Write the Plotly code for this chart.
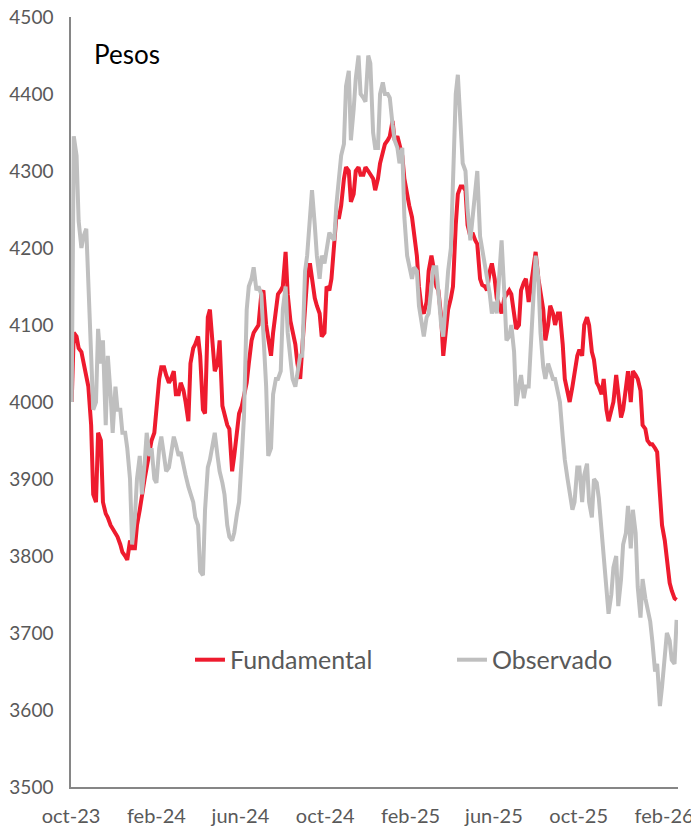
import pandas as pd
import plotly.graph_objects as go

# Twice-weekly readings (Monday, Thursday) from Oct-2023 to Feb-2026
mondays = pd.date_range("2023-10-02", periods=125, freq="7D")
thursdays = mondays + pd.Timedelta(days=3)
dates = [d for pair in zip(mondays, thursdays) for d in pair]

observado = [
    4000, 4345, 4320, 4235, 4200, 4215, 4225, 4150, 4060, 3990,
    4000, 4095, 4050, 4080, 3970, 4060, 4010, 3960, 4020, 3990,
    3990, 3960, 3960, 3940, 3900, 3815, 3850, 3900, 3930, 3880,
    3920, 3960, 3930, 3940, 3900, 3895, 3940, 3955, 3930, 3910,
    3915, 3935, 3955, 3945, 3930, 3935, 3915, 3905, 3890, 3880,
    3870, 3850, 3840, 3780, 3775, 3860, 3915, 3925, 3945, 3960,
    3930, 3910, 3895, 3880, 3840, 3825, 3820, 3830, 3855, 3870,
    3930, 3980, 4120, 4150, 4160, 4175, 4145, 4150, 4140, 4090,
    4020, 3930, 3940, 4010, 4030, 4030, 4040, 4120, 4150, 4090,
    4050, 4030, 4020, 4040, 4060, 4060, 4170, 4190, 4240, 4275,
    4230, 4190, 4160, 4190, 4180, 4200, 4220, 4215, 4210, 4255,
    4300, 4320, 4335, 4410, 4430, 4340, 4380, 4420, 4450, 4400,
    4395, 4390, 4450, 4440, 4350, 4330, 4330, 4400, 4415, 4400,
    4400, 4395, 4360, 4340, 4330, 4310, 4330, 4240, 4190, 4175,
    4160, 4175, 4170, 4125, 4100, 4085, 4110, 4115, 4150, 4175,
    4175, 4140, 4100, 4085, 4140, 4170, 4200, 4300, 4400, 4425,
    4350, 4310, 4300, 4250, 4210, 4240, 4280, 4300, 4215, 4200,
    4180, 4160, 4140, 4115, 4130, 4115, 4170, 4210, 4140, 4080,
    4085, 4100, 4065, 3995, 4020, 4035, 4005, 4020, 4020, 4070,
    4120, 4190, 4160, 4090, 4045, 4030, 4050, 4040, 4030, 4030,
    4010, 4000, 3955, 3925, 3900, 3880, 3860, 3870, 3915, 3915,
    3870, 3905, 3920, 3870, 3850, 3900, 3895, 3875, 3830, 3790,
    3760, 3725, 3750, 3785, 3800, 3735, 3770, 3815, 3830, 3865,
    3810, 3860, 3830, 3760, 3720, 3770, 3745, 3730, 3715, 3690,
    3650, 3660, 3605, 3630, 3680, 3700, 3690, 3665, 3660, 3717,
]

fundamental = [
    4000, 4090, 4085, 4070, 4065, 4050, 4030, 4020, 3970, 3880,
    3870, 3960, 3950, 3870, 3855, 3850, 3840, 3835, 3830, 3825,
    3815, 3805, 3800, 3795, 3820, 3810, 3810, 3840, 3860, 3880,
    3900, 3915, 3935, 3950, 3960, 3990, 4030, 4045, 4045, 4035,
    4025, 4030, 4040, 4010, 4010, 4025, 4015, 4000, 3975, 4050,
    4070, 4075, 4085, 4060, 3990, 3985, 4110, 4120, 4075, 4040,
    4050, 4080, 3995, 3985, 3970, 3965, 3910, 3930, 3960, 3985,
    3995, 4010, 4025, 4050, 4080, 4090, 4095, 4100, 4140, 4145,
    4100, 4080, 4060, 4090, 4120, 4140, 4145, 4150, 4195, 4140,
    4105, 4090, 4075, 4050, 4030, 4070, 4130, 4160, 4180, 4160,
    4135, 4125, 4115, 4085, 4090, 4150, 4145, 4160, 4215, 4240,
    4240, 4255, 4290, 4305, 4300, 4260, 4270, 4300, 4305, 4295,
    4295, 4305, 4300, 4295, 4290, 4275, 4290, 4310, 4325, 4335,
    4340, 4345, 4365, 4340, 4345, 4335, 4320, 4290, 4265, 4255,
    4240, 4220, 4190, 4150, 4120, 4115, 4130, 4170, 4190, 4175,
    4150, 4145, 4110, 4060, 4100, 4120, 4135, 4150, 4230, 4270,
    4280, 4280, 4275, 4230, 4215, 4220, 4210, 4205, 4160, 4152,
    4150, 4145, 4170, 4180, 4160, 4135, 4125, 4115, 4135, 4140,
    4145, 4140, 4115, 4095, 4100, 4145, 4155, 4160, 4130, 4150,
    4175, 4195, 4160, 4140, 4120, 4080, 4100, 4125, 4115, 4100,
    4115, 4115, 4075, 4030, 4010, 4000, 4020, 4040, 4060, 4068,
    4060, 4100, 4110, 4100, 4065, 4055, 4025, 4020, 4010, 4030,
    3990, 3975, 3990, 4000, 4035, 4010, 3980, 3990, 4020, 4040,
    4000, 4040, 4035, 4030, 4015, 3970, 3965, 3950, 3945, 3945,
    3940, 3935, 3880, 3840, 3820, 3800, 3765, 3755, 3745, 3743,
]

tick_dates = ["2023-10-01", "2024-02-01", "2024-06-01", "2024-10-01",
              "2025-02-01", "2025-06-01", "2025-10-01", "2026-02-01"]
tick_labels = ["oct-23", "feb-24", "jun-24", "oct-24",
               "feb-25", "jun-25", "oct-25", "feb-26"]

fig = go.Figure()
fig.add_trace(go.Scatter(x=dates, y=fundamental, name="Fundamental", mode="lines",
                         line=dict(color="#EE1B2E", width=4)))
fig.add_trace(go.Scatter(x=dates, y=observado, name="Observado", mode="lines",
                         line=dict(color="#BFBFBF", width=4)))

axis_color = "#868686"
fig.update_layout(
    width=691, height=822,
    margin=dict(l=63, r=21, t=9, b=43, autoexpand=False),
    plot_bgcolor="white", paper_bgcolor="white",
    font=dict(family="Lato", color="#595959"),
    showlegend=True,
    legend=dict(orientation="h", x=0.196, y=0.165, xanchor="left", yanchor="middle",
                font=dict(size=25, color="#595959"), bgcolor="rgba(0,0,0,0)",
                entrywidth=217, entrywidthmode="pixels"),
    annotations=[dict(text="Pesos", x=0.035, y=0.952, xref="paper", yref="paper",
                      xanchor="left", yanchor="middle", showarrow=False,
                      font=dict(size=26, color="black", family="Lato"))],
)
fig.update_xaxes(type="date", range=["2023-10-01", "2026-02-21"],
                 tickvals=tick_dates, ticktext=tick_labels, automargin=False,
                 ticklabeloverflow="allow",
                 showline=True, linecolor=axis_color, linewidth=1.5,
                 showgrid=False, zeroline=False, ticks="",
                 tickfont=dict(size=20, color="#595959"), ticklabelstandoff=10)
fig.update_yaxes(range=[3500, 4500], tick0=3500, dtick=100, automargin=False,
                 ticklabeloverflow="allow",
                 showline=True, linecolor=axis_color, linewidth=1.5,
                 showgrid=False, zeroline=False, ticks="",
                 tickfont=dict(size=19, color="#595959"), ticklabelstandoff=12)

fig.write_html("out.html")
